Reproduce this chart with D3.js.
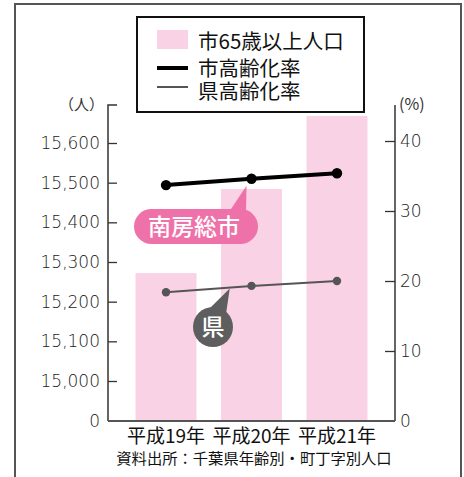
<!DOCTYPE html>
<html><head><meta charset="utf-8">
<script src="https://cdn.jsdelivr.net/npm/d3@7/dist/d3.min.js"></script>
<style>body{margin:0;background:#fff}svg{display:block}text{font-family:"Noto Sans CJK JP","Noto Sans",sans-serif}</style>
</head><body><svg id="c" width="464" height="477"></svg>
<script>
const categories = ["平成19年", "平成20年", "平成21年"];
const population65 = [15272, 15484, 15668];
const cityRate = [33.7, 34.6, 35.4];
const prefRate = [18.4, 19.3, 20.0];
const leftTicks = [0, 15000, 15100, 15200, 15300, 15400, 15500, 15600];
const rightTicks = [0, 10, 20, 30, 40];
const legendLabels = ["市65歳以上人口", "市高齢化率", "県高齢化率"];
const sourceText = "資料出所：千葉県年齢別・町丁字別人口";

const svg = d3.select("#c");
const pink = "#f9d3e5", axisCol = "#333";
const L = 108, R = 395, B = 421, T = 105;
const numFont = "'DejaVu Sans', sans-serif";

// outer frame
svg.append("rect").attr("x", 15).attr("y", 4).attr("width", 446).attr("height", 490)
  .attr("fill", "none").attr("stroke", "#555").attr("stroke-width", 2);

const x = d3.scaleBand().domain(categories).range([L, R]).paddingInner(0.2865).paddingOuter(0.322);
const yL = d3.scaleLinear().domain([0, 15000, 15600]).range([B, 381, 143]);
const yR = d3.scaleLinear().domain([0, 40]).range([B, 141]);

// bars
svg.append("g").selectAll("rect").data(population65).join("rect")
  .attr("x", (d, i) => x(categories[i])).attr("width", x.bandwidth())
  .attr("y", d => yL(d)).attr("height", d => B - yL(d)).attr("fill", pink);

// left axis
const gl = svg.append("g").attr("transform", `translate(${L},0)`)
  .call(d3.axisRight(yL).tickValues(leftTicks).tickSize(9).tickFormat(""));
gl.select(".domain").remove();
gl.selectAll("line").attr("stroke", axisCol).attr("stroke-width", 1.3);
gl.selectAll(".tick").filter(d => d === 0).remove();
svg.append("path").attr("d", `M${L + 9},${T}H${L}V${B}`).attr("fill", "none").attr("stroke", axisCol).attr("stroke-width", 1.5);
svg.append("g").selectAll("text").data(leftTicks).join("text")
  .attr("x", 100).attr("y", d => yL(d)).attr("dy", "0.36em").attr("text-anchor", "end")
  .style("font-family", numFont).attr("font-size", 17).attr("fill", "#1a1a1a").attr("font-weight", 200)
  .text(d => d3.format(",")(d));

// right axis
const gr = svg.append("g").attr("transform", `translate(${R},0)`)
  .call(d3.axisLeft(yR).tickValues(rightTicks).tickSize(10).tickFormat(""));
gr.select(".domain").remove();
gr.selectAll("line").attr("stroke", axisCol).attr("stroke-width", 1.3);
gr.selectAll(".tick").filter(d => d === 0).remove();
svg.append("path").attr("d", `M${R},${T}V${B}`).attr("stroke", axisCol).attr("stroke-width", 1.5);
svg.append("g").selectAll("text").data(rightTicks).join("text")
  .attr("x", 400).attr("y", d => yR(d)).attr("dy", "0.36em")
  .style("font-family", numFont).attr("font-size", 17).attr("fill", "#1a1a1a").attr("font-weight", 200)
  .text(d => d);

// bottom axis
svg.append("path").attr("d", `M${L},${B}H${R}`).attr("stroke", "#555").attr("stroke-width", 2);

// unit labels
svg.append("text").attr("x", 104).attr("y", 110).attr("text-anchor", "end").attr("font-size", 15).attr("fill", "#333").text("（人）");
svg.append("text").attr("x", 399).attr("y", 110).attr("font-size", 16).attr("fill", "#333").text("(%)");

// category labels
svg.append("g").selectAll("text").data(categories).join("text")
  .attr("x", d => x(d) + x.bandwidth() / 2).attr("y", 443).attr("text-anchor", "middle")
  .attr("font-size", 19).attr("fill", "#111").text(d => d);
svg.append("text").attr("x", 254).attr("y", 464).attr("text-anchor", "middle")
  .attr("font-size", 15.3).attr("fill", "#111").text(sourceText);

// lines
const cx = (d, i) => x(categories[i]) + x.bandwidth() / 2;
const lineR = d3.line().x(cx).y(d => yR(d));
svg.append("path").datum(prefRate).attr("d", lineR).attr("fill", "none").attr("stroke", "#555").attr("stroke-width", 2);
svg.append("g").selectAll("circle").data(prefRate).join("circle")
  .attr("cx", cx).attr("cy", d => yR(d)).attr("r", 4.2).attr("fill", "#555");
svg.append("path").datum(cityRate).attr("d", lineR).attr("fill", "none").attr("stroke", "#000").attr("stroke-width", 4);
svg.append("g").selectAll("circle").data(cityRate).join("circle")
  .attr("cx", cx).attr("cy", d => yR(d)).attr("r", 5.2).attr("fill", "#000");

// callout: 南房総市
const cityPink = "#ee72a9";
const tipCx = cx(null, 1) - 5, tipCy = yR(cityRate[1]) + 7;
svg.append("path").attr("d", `M229,212L${tipCx},${tipCy}L246,212Z`).attr("fill", cityPink);
svg.append("rect").attr("x", 134).attr("y", 209).attr("width", 124).attr("height", 35).attr("rx", 17.5).attr("fill", cityPink);
svg.append("text").attr("x", 194).attr("y", 235).attr("text-anchor", "middle").attr("font-size", 23)
  .attr("font-weight", 500).attr("fill", "#fff").text("南房総市");

// callout: 県
const prefGrey = "#5e5e5e";
const ptx = (cx(null, 0) + cx(null, 1)) / 2 + 21;
const pty = (yR(prefRate[0]) * (1 - 0.74) + yR(prefRate[1]) * 0.74) + 1;
svg.append("path").attr("d", `M209,309L${ptx},${pty}L226,314Z`).attr("fill", prefGrey);
svg.append("circle").attr("cx", 213).attr("cy", 327).attr("r", 20).attr("fill", prefGrey);
svg.append("text").attr("x", 213).attr("y", 335).attr("text-anchor", "middle").attr("font-size", 23)
  .attr("font-weight", 500).attr("fill", "#fff").text("県");

// legend
svg.append("rect").attr("x", 137).attr("y", 17).attr("width", 227).attr("height", 95)
  .attr("fill", "#fff").attr("stroke", "#111").attr("stroke-width", 2);
svg.append("rect").attr("x", 157).attr("y", 30).attr("width", 31).attr("height", 19).attr("fill", pink);
svg.append("line").attr("x1", 157).attr("x2", 188).attr("y1", 68).attr("y2", 68).attr("stroke", "#000").attr("stroke-width", 4);
svg.append("line").attr("x1", 157).attr("x2", 188).attr("y1", 87).attr("y2", 87).attr("stroke", "#555").attr("stroke-width", 2);
svg.append("g").selectAll("text").data(legendLabels).join("text")
  .attr("x", 198).attr("y", (d, i) => [49, 76, 99][i]).attr("font-size", 20.5).attr("fill", "#111").text(d => d);
</script></body></html>
